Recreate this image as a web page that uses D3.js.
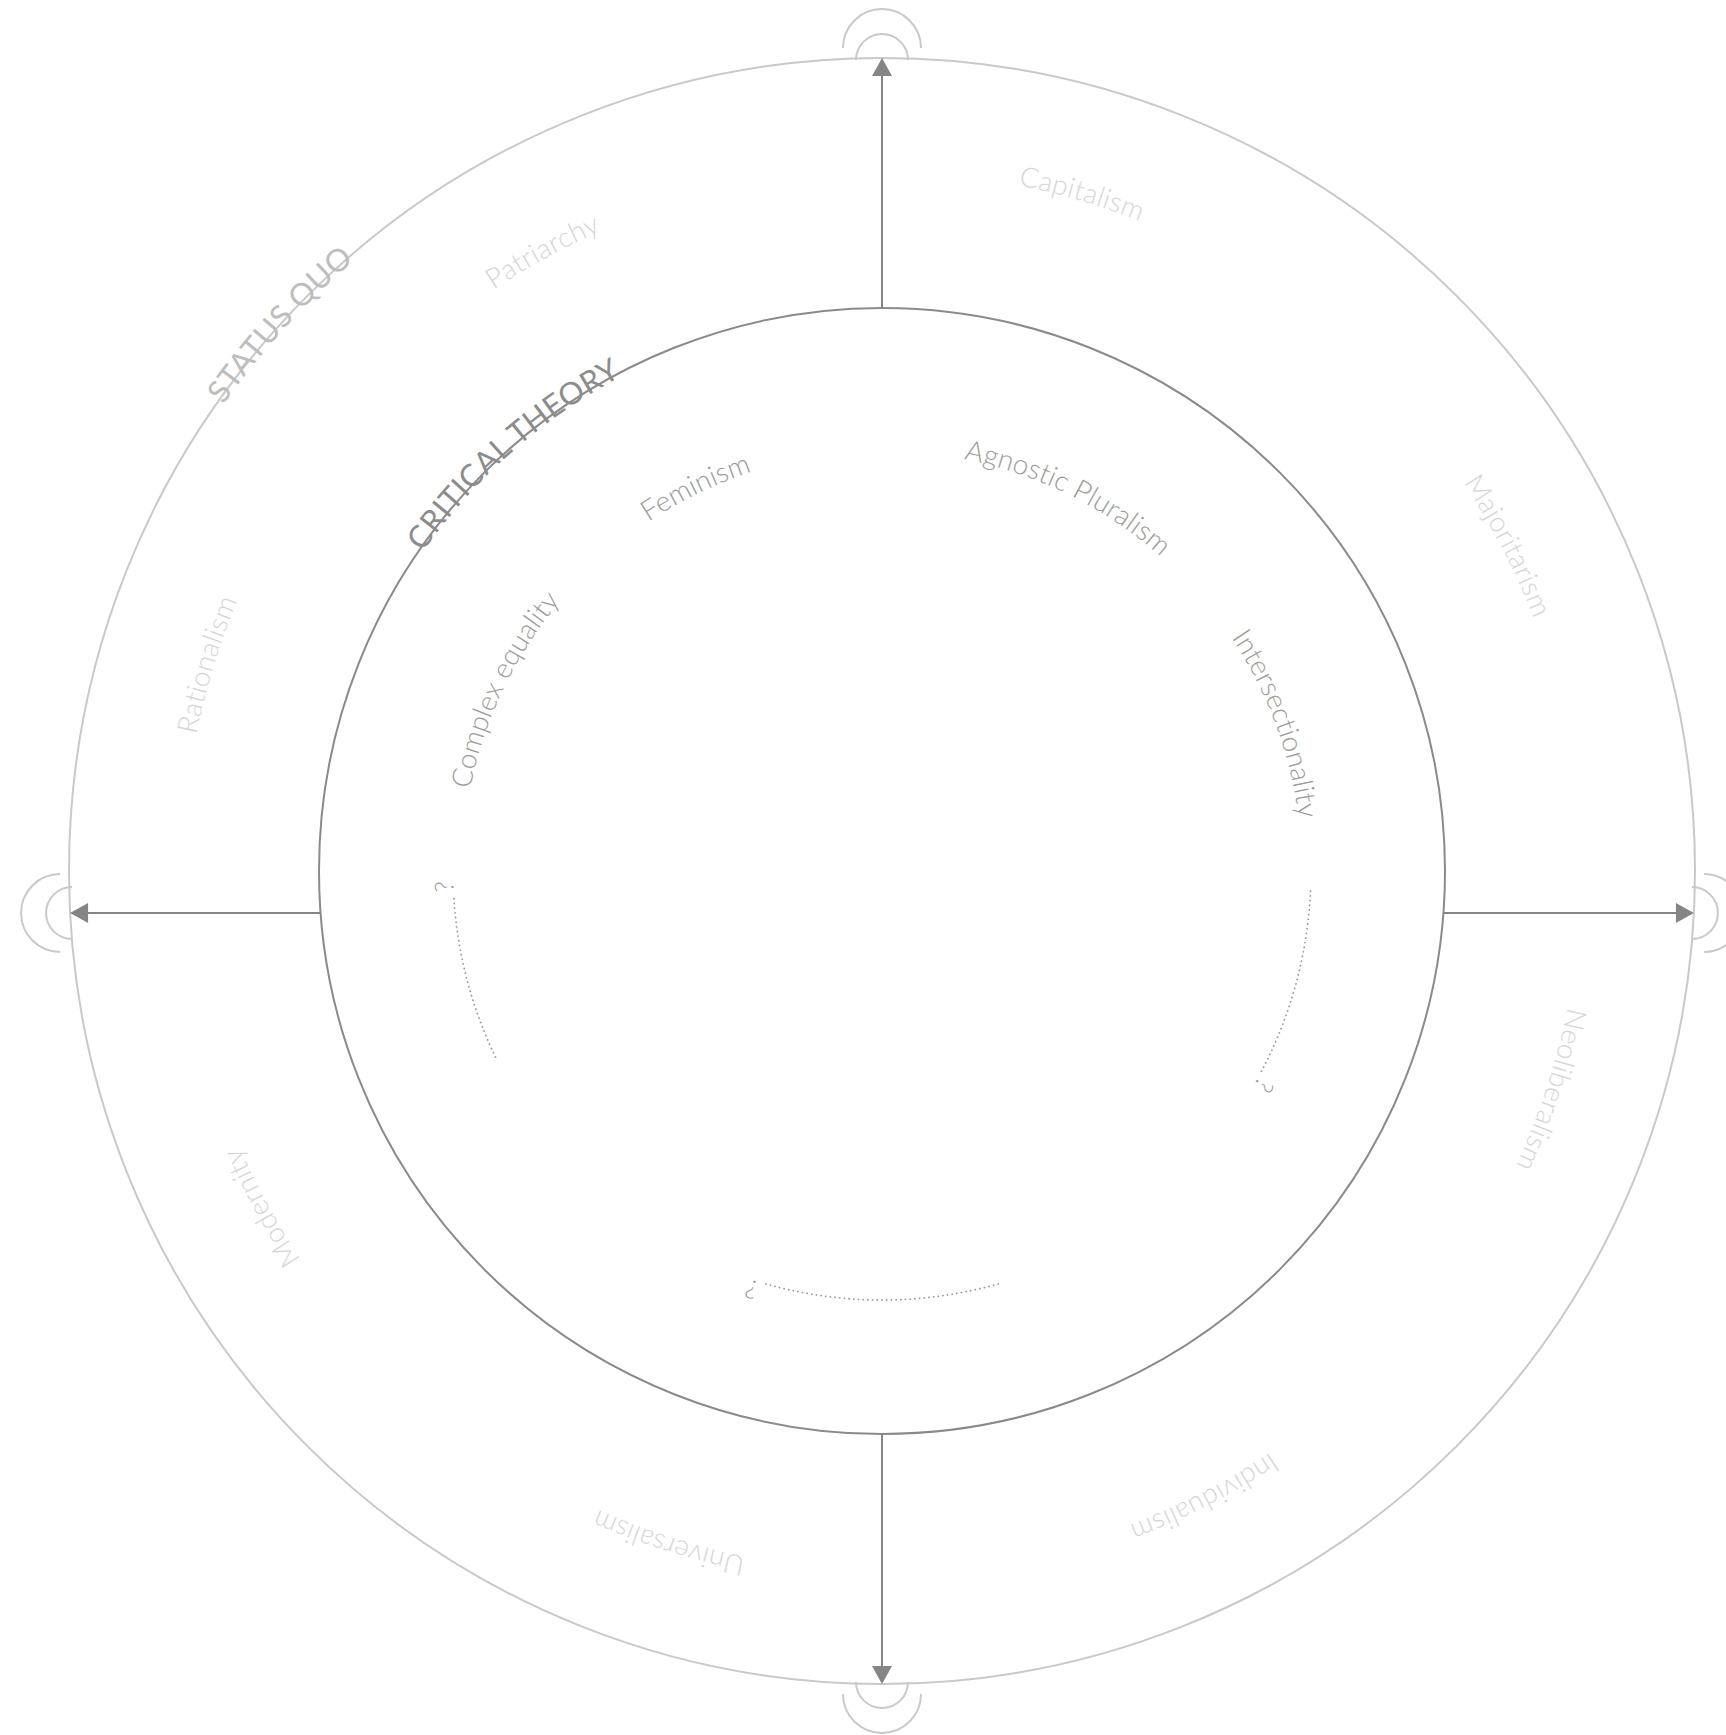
<!DOCTYPE html>
<html><head><meta charset="utf-8">
<script src="https://cdn.jsdelivr.net/npm/d3@7"></script>
<style>html,body{margin:0;padding:0;background:#fff;} svg{display:block}</style>
</head><body>
<script>
// ---- data (angles in degrees, clockwise from 12 o'clock) ----
const outerLabels = ["Capitalism","Majoritarism","Neoliberalism","Individualism","Universalism","Modernity","Rationalism","Patriarchy"];
const outerStartDeg = [11.25,56.25,101.25,146.25,191.25,236.25,281.25,326.25];
const innerLabels = ["Complex equality","Feminism","Agnostic Pluralism","Intersectionality"];
const innerStartDeg = [-78.75,-33.75,11.25,56.25];
const openStartDeg = [92.7,164.3,244.3];
const openEndDeg = [118,196,266.6];
const ringTitles = ["STATUS QUO","CRITICAL THEORY"];
const ringTitleStartDeg = [-54.7,-55.2];
const axisDirs = ["top","right","bottom","left"];

const W = 1726, H = 1735;
const cx = 882, cy = 871;
const R_OUT = 813, R_IN = 563;
const AXIS_Y = 913;

const deg = d3.scaleLinear().domain([0,360]).range([0, 2*Math.PI]);
const pt = (r, a) => [cx + r*Math.sin(deg(a)), cy - r*Math.cos(deg(a))];
function arcPath(r, a0, a1){
  const p0 = pt(r,a0), p1 = pt(r,a1);
  const large = (a1-a0) > 180 ? 1 : 0;
  return `M${p0[0]},${p0[1]}A${r},${r} 0 ${large} 1 ${p1[0]},${p1[1]}`;
}

const svg = d3.select("body").append("svg").attr("width",W).attr("height",H);
const defs = svg.append("defs");
const FONT = "Lato, 'Open Sans', sans-serif";

// circles
svg.append("circle").attr("cx",cx).attr("cy",cy).attr("r",R_OUT)
  .attr("fill","none").attr("stroke","#c9c9c9").attr("stroke-width",2);
svg.append("circle").attr("cx",cx).attr("cy",cy).attr("r",R_IN)
  .attr("fill","none").attr("stroke","#8a8a8a").attr("stroke-width",2);

// axes with arrows
const axisColor = "#858585";
function axisGeom(dir){
  if(dir==="top")    return {from:[cx, cy-R_IN], to:[cx, cy-R_OUT], u:[0,-1]};
  if(dir==="bottom") return {from:[cx, cy+R_IN], to:[cx, cy+R_OUT], u:[0,1]};
  const dy = AXIS_Y - cy;
  const xi = Math.sqrt(R_IN*R_IN - dy*dy), xo = Math.sqrt(R_OUT*R_OUT - dy*dy);
  if(dir==="left")   return {from:[cx-xi, AXIS_Y], to:[cx-xo, AXIS_Y], u:[-1,0]};
  return {from:[cx+xi, AXIS_Y], to:[cx+xo, AXIS_Y], u:[1,0]};
}
const headL = 18, headW = 10;
axisDirs.forEach(dir => {
  const g = axisGeom(dir), u = g.u, p = [-u[1], u[0]];
  const base = [g.to[0]-u[0]*headL, g.to[1]-u[1]*headL];
  svg.append("line").attr("x1",g.from[0]).attr("y1",g.from[1])
    .attr("x2",base[0]+u[0]*2).attr("y2",base[1]+u[1]*2)
    .attr("stroke",axisColor).attr("stroke-width",2);
  svg.append("path").attr("d",`M${g.to[0]},${g.to[1]}L${base[0]+p[0]*headW},${base[1]+p[1]*headW}L${base[0]-p[0]*headW},${base[1]-p[1]*headW}Z`)
    .attr("fill",axisColor);
  // double semicircle ornaments
  [[10,39],[-2,26]].forEach(([off,r]) => {
    const c = [g.to[0]+u[0]*off, g.to[1]+u[1]*off];
    const s = [c[0]-p[0]*r, c[1]-p[1]*r], e = [c[0]+p[0]*r, c[1]+p[1]*r];
    svg.append("path").attr("d",`M${s[0]},${s[1]}A${r},${r} 0 0 1 ${e[0]},${e[1]}`)
      .attr("fill","none").attr("stroke","#c9c9c9").attr("stroke-width",2);
  });
});

// text on arcs
let pid = 0;
function arcText(text, r, a0, opts){
  const id = "tp"+(pid++);
  defs.append("path").attr("id",id).attr("d",arcPath(r, a0, a0+170));
  svg.append("text")
    .attr("font-family",FONT).attr("font-weight",opts.weight||300)
    .attr("font-size",opts.size).attr("fill",opts.color)
    .attr("letter-spacing",opts.ls||0)
    .append("textPath").attr("href","#"+id).attr("startOffset",0).text(text);
}

outerLabels.forEach((t,i) => arcText(t, 699, outerStartDeg[i], {size:28, color:"#d6d6d6", ls:0.3}));
innerLabels.forEach((t,i) => arcText(t, 420, innerStartDeg[i], {size:28, color:"#9c9c9c", ls:0.15}));

arcText(ringTitles[0], R_OUT-6, ringTitleStartDeg[0], {size:31, color:"#bdbdbd", ls:0.6, weight:400});
arcText(ringTitles[1], R_IN-4, ringTitleStartDeg[1], {size:31, color:"#8c8c8c", ls:0.4, weight:400});

// open (dotted) items ending with "?"
openStartDeg.forEach((a0,i) => {
  const a1 = openEndDeg[i];
  svg.append("path").attr("d",arcPath(429, a0, a1))
    .attr("fill","none").attr("stroke","#9a9a9a").attr("stroke-width",1.8)
    .attr("stroke-linecap","round").attr("stroke-dasharray","0.1 4.6");
  arcText("?", 429, a1+0.6, {size:26, color:"#9c9c9c"});
});
</script>
</body></html>
